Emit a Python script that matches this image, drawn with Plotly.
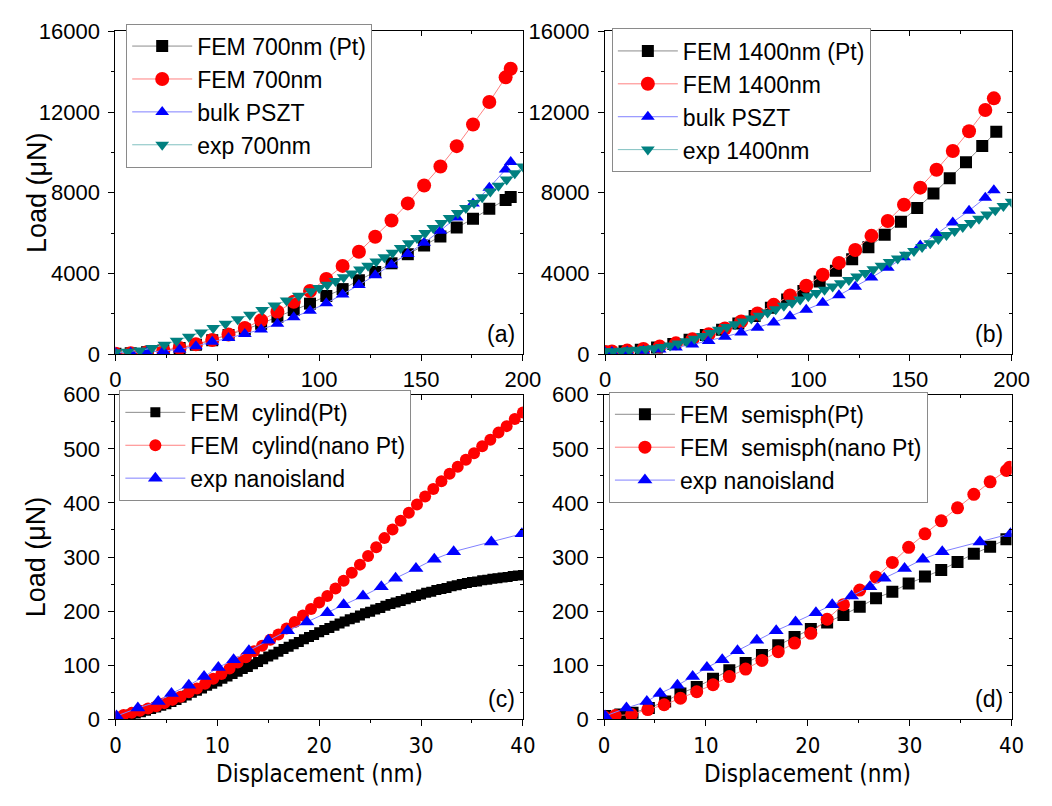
import plotly.graph_objects as go

# ---------------- Panel (a) : 700 nm ----------------
fem_x_a = [0, 7.5, 15.5, 23.5, 31.5, 39.5, 47.5, 55.5, 63.5, 71.5, 79.5, 87.5, 95.5, 103.5,
           111.5, 119.5, 127.5, 135.5, 143.5, 151.5, 159.5, 167.5, 175.5, 183.5, 191.5, 194.0]
fem_pt_a = [20, 40, 90, 180, 300, 465, 690, 950, 1220, 1500, 1850, 2180, 2500, 2880,
            3220, 3660, 4070, 4500, 4950, 5380, 5830, 6270, 6710, 7200, 7640, 7790]
fem_a = [20, 40, 90, 180, 305, 480, 700, 970, 1290, 1670, 2100, 2590, 3130, 3720,
         4370, 5070, 5820, 6620, 7470, 8360, 9300, 10310, 11380, 12500, 13720, 14150]
bulk_a = [60, 70, 100, 150, 230, 390, 610, 790, 990, 1220, 1500, 1820, 2150, 2516,
          2950, 3420, 3910, 4430, 4960, 5513, 6120, 6770, 7460, 8250, 9150, 9519]
exp_x_a = [0, 6, 12, 18, 24, 30, 36, 42, 48, 54, 60, 66, 72, 78, 84, 90, 96, 100, 104, 108,
           112, 116, 120, 124, 128, 132, 136, 140, 144, 148, 152, 156, 160, 164, 168, 172,
           176, 180, 184, 188, 192, 196, 200]
exp_a = [90, 120, 180, 300, 460, 660, 860, 1070, 1290, 1500, 1720, 1950, 2180, 2410, 2650,
         2890, 3120, 3270, 3440, 3620, 3810, 4000, 4190, 4380, 4590, 4800, 5020, 5260, 5500,
         5750, 6000, 6250, 6500, 6750, 7000, 7240, 7490, 7770, 8060, 8350, 8650, 8960, 9300]

# ---------------- Panel (b) : 1400 nm ----------------
fem_pt_x_b = [0, 1.6, 9.6, 17.6, 25.6, 33.6, 41.6, 49.6, 57.6, 65.6, 73.6, 81.6, 89.6, 97.6,
              105.6, 113.6, 121.6, 129.6, 137.6, 145.6, 153.6, 161.6, 169.6, 177.6, 185.6, 192.5]
fem_pt_b = [100, 110, 145, 210, 330, 500, 710, 950, 1200, 1510, 1890, 2290, 2700, 3130,
            3600, 4130, 4700, 5290, 5910, 6560, 7240, 7960, 8720, 9510, 10320, 11020]
fem_x_b = [0, 3.4, 10.9, 18.9, 26.9, 34.9, 43.0, 51.0, 59.0, 67.0, 75.0, 83.0, 91.0, 99.0,
           107.1, 115.1, 123.1, 131.1, 139.1, 147.1, 155.1, 163.1, 171.1, 179.1, 187.1, 191.3]
fem_b = [100, 130, 170, 250, 370, 530, 730, 980, 1270, 1620, 2010, 2440, 2900, 3390,
         3930, 4520, 5160, 5860, 6600, 7400, 8250, 9140, 10070, 11050, 12100, 12680]
bulk_b = [90, 100, 120, 160, 230, 330, 470, 650, 860, 1070, 1310, 1570, 1870, 2200,
          2540, 2920, 3340, 3790, 4280, 4800, 5380, 5960, 6520, 7110, 7750, 8120]
exp_x_b = [0, 4, 8, 12, 16, 20, 24, 28, 32, 36, 40, 44, 48, 52, 56, 60, 64, 68, 72, 76, 80,
           84, 88, 92, 96, 100, 104, 108, 112, 116, 120, 124, 128, 132, 136, 140, 144, 148,
           152, 156, 160, 164, 168, 172, 176, 180, 184, 188, 192, 196, 200]
exp_b = [140, 145, 160, 185, 215, 250, 290, 350, 430, 520, 630, 760, 900, 1050, 1200, 1340,
         1480, 1620, 1760, 1900, 2060, 2220, 2390, 2550, 2710, 2870, 3030, 3190, 3350, 3510,
         3670, 3840, 4020, 4200, 4380, 4560, 4740, 4920, 5110, 5310, 5500, 5700, 5900, 6100,
         6300, 6500, 6710, 6920, 7130, 7340, 7550]

# ---------------- Panel (c) : cylinder ----------------
cyl_pt_x = [0, 0.5, 1, 1.5, 2, 2.5, 3, 3.5, 4, 4.5, 5, 5.5, 6, 6.5, 7, 7.5, 8, 8.5, 9, 9.5,
            10, 10.5, 11, 11.5, 12, 12.5, 13, 13.5, 14, 14.5, 15, 15.5, 16, 16.5, 17, 17.5,
            18, 18.5, 19, 19.5, 20, 20.5, 21, 21.5, 22, 22.5, 23, 23.5, 24, 24.5, 25, 25.5,
            26, 26.5, 27, 27.5, 28, 28.5, 29, 29.5, 30, 30.5, 31, 31.5, 32, 32.5, 33, 33.5,
            34, 34.5, 35, 35.5, 36, 36.5, 37, 37.5, 38, 38.5, 39, 39.5, 40]
cyl_pt_y = [4, 5, 7, 9, 11, 13, 16, 19, 22, 25, 28, 32, 36, 40, 44, 49, 53, 57, 62, 66,
            70, 75, 79, 84, 88, 93, 97, 102, 106, 111, 116, 120, 125, 130, 134, 139,
            143, 148, 152, 156, 161, 165, 169, 173, 177, 181, 185, 188, 192, 196, 199, 203,
            206, 210, 213, 216, 219, 222, 225, 228, 231, 234, 236, 239, 241, 243, 246, 248,
            250, 252, 254, 255, 257, 258, 260, 261, 262, 263, 265, 266, 267]
cyl_nano_x = [0, 0.8, 1.6, 2.4, 3.2, 4.0, 4.8, 5.6, 6.4, 7.2, 8.0, 8.8, 9.6, 10.4, 11.2, 12.0,
              12.8, 13.6, 14.4, 15.2, 16.0, 16.8, 17.6, 18.4, 19.2, 20.0, 20.8, 21.6, 22.4,
              23.2, 24.0, 24.8, 25.6, 26.4, 27.2, 28.0, 28.8, 29.6, 30.4, 31.2, 32.0, 32.8,
              33.6, 34.4, 35.2, 36.0, 36.8, 37.6, 38.4, 39.2, 40.0]
cyl_nano_y = [5, 8, 12, 16, 20, 24, 30, 36, 42, 50, 57, 66, 75, 84, 94, 105, 115, 126, 136,
              147, 157, 168, 180, 192, 204, 216, 228, 242, 256, 271, 286, 302, 318, 335, 351,
              367, 382, 397, 412, 426, 440, 454, 467, 480, 492, 505, 517, 530, 542, 555, 567]
exp_nano_x = [0.1, 2.2, 4.2, 5.5, 7.2, 8.7, 10.1, 11.6, 13.1, 15.0, 16.9, 18.8, 20.8, 22.4,
              24.3, 26.1, 27.5, 29.5, 31.3, 33.2, 36.9, 39.9]
exp_nano_y = [6, 21, 33, 48, 63, 79, 96, 110, 127, 146, 164, 180, 197, 212,
              228, 245, 261, 279, 296, 310, 328, 343]

# ---------------- Panel (d) : semisphere ----------------
sph_pt_x = [0.1, 1.6, 2.8, 4.4, 6.0, 7.5, 9.1, 10.7, 12.3, 13.9, 15.5, 17.1, 18.7, 20.3,
            21.9, 23.5, 25.1, 26.7, 28.3, 29.9, 31.5, 33.1, 34.7, 36.3, 37.9, 39.5]
sph_pt_y = [6, 9, 12, 21, 33, 48, 60, 75, 91, 104, 119, 137, 152, 167,
            179, 193, 208, 224, 236, 251, 264, 276, 291, 306, 319, 333]
sph_nano_x = [0, 1.1, 2.7, 4.3, 5.9, 7.5, 9.1, 10.7, 12.3, 13.9, 15.5, 17.1, 18.7, 20.3,
              21.9, 23.5, 25.1, 26.7, 28.3, 29.9, 31.5, 33.1, 34.7, 36.3, 37.9, 39.5, 39.8]
sph_nano_y = [5, 7, 9, 18, 27, 39, 51, 64, 79, 93, 109, 125, 141, 159,
              185, 212, 239, 263, 290, 318, 343, 367, 391, 416, 439, 460, 466]

FONT = "Liberation Sans, Arial, sans-serif"
NARROW = "DejaVu Sans Condensed, Liberation Sans Narrow, Liberation Sans, sans-serif"

BLACK, RED, BLUE, TEAL = "#000000", "#FF0000", "#0000FF", "#008080"
L_BLACK, L_RED, L_BLUE, L_TEAL = "#8c8c8c", "#ff8080", "#8080ff", "#80c0c0"

fig = go.Figure()


def add(x, y, name, color, lcolor, symbol, size, panel):
    sfx = "" if panel == 1 else str(panel)
    fig.add_trace(go.Scatter(
        x=x, y=y, name=name, mode="lines+markers",
        line=dict(color=lcolor, width=1),
        marker=dict(symbol=symbol, size=size, color=color),
        xaxis="x" + sfx, yaxis="y" + sfx, legend="legend" + sfx))


# panel a
add(fem_x_a, fem_pt_a, "FEM 700nm (Pt)", BLACK, L_BLACK, "square", 12, 1)
add(fem_x_a, fem_a, "FEM 700nm", RED, L_RED, "circle", 14, 1)
add(fem_x_a, bulk_a, "bulk PSZT", BLUE, L_BLUE, "triangle-up", 12, 1)
add(exp_x_a, exp_a, "exp 700nm", TEAL, L_TEAL, "triangle-down", 12, 1)
# panel b
add(fem_pt_x_b, fem_pt_b, "FEM 1400nm (Pt)", BLACK, L_BLACK, "square", 12, 2)
add(fem_x_b, fem_b, "FEM 1400nm", RED, L_RED, "circle", 14, 2)
add(fem_x_b, bulk_b, "bulk PSZT", BLUE, L_BLUE, "triangle-up", 12, 2)
add(exp_x_b, exp_b, "exp 1400nm", TEAL, L_TEAL, "triangle-down", 12, 2)
# panel c
add(cyl_pt_x, cyl_pt_y, "FEM  cylind(Pt)", BLACK, L_BLACK, "square", 10, 3)
add(cyl_nano_x, cyl_nano_y, "FEM  cylind(nano Pt)", RED, L_RED, "circle", 12, 3)
add(exp_nano_x, exp_nano_y, "exp nanoisland", BLUE, L_BLUE, "triangle-up", 13, 3)
# panel d
add(sph_pt_x, sph_pt_y, "FEM  semisph(Pt)", BLACK, L_BLACK, "square", 12, 4)
add(sph_nano_x, sph_nano_y, "FEM  semisph(nano Pt)", RED, L_RED, "circle", 13, 4)
add(exp_nano_x, exp_nano_y, "exp nanoisland", BLUE, L_BLUE, "triangle-up", 13, 4)

W, H = 1052, 806
# plot areas in pixels (left, right, top, bottom)
areas = {1: (112, 529, 20, 353), 2: (613, 1029, 20, 353),
         3: (112, 529, 395, 730), 4: (612, 1029, 395, 730)}
xr = {1: [0, 200], 2: [0, 200], 3: [0, 40], 4: [0, 40]}
yr = {1: [0, 16000], 2: [0, 16000], 3: [0, 600], 4: [0, 600]}
xd = {1: (50, 25), 2: (50, 25), 3: (10, 5), 4: (10, 5)}
yd = {1: (4000, 2000), 2: (4000, 2000), 3: (100, 50), 4: (100, 50)}

layout = dict(width=W, height=H, margin=dict(l=0, r=0, t=0, b=0),
              paper_bgcolor="white", plot_bgcolor="white",
              font=dict(family=FONT, color="black"), showlegend=True)

for p in range(1, 5):
    l, r, t, b = areas[p]
    sfx = "" if p == 1 else str(p)
    osfx = str(p + 4)
    xdom = [l / W, r / W]
    ydom = [1 - b / H, 1 - t / H]
    xfont = dict(family=FONT if p <= 2 else NARROW, size=22, color="black")
    layout["xaxis" + sfx] = dict(
        domain=xdom, range=xr[p], anchor="y" + sfx, showline=True, linecolor="black",
        linewidth=1, mirror=True, ticks="outside", ticklen=6, tickcolor="black",
        tick0=0, dtick=xd[p][0], showgrid=False, zeroline=False, tickfont=xfont,
        minor=dict(dtick=xd[p][1], tick0=0, ticks="outside", ticklen=3, tickcolor="black"))
    layout["yaxis" + sfx] = dict(
        domain=ydom, range=yr[p], anchor="x" + sfx, showline=True, linecolor="black",
        linewidth=1, mirror=True, ticks="outside", ticklen=6, tickcolor="black",
        tick0=0, dtick=yd[p][0], showgrid=False, zeroline=False, tickformat="d",
        ticklabelstandoff=4,
        tickfont=dict(family=FONT, size=22, color="black"),
        minor=dict(dtick=yd[p][1], tick0=0, ticks="outside", ticklen=3, tickcolor="black"))
    # inside ticks on top / right
    layout["xaxis" + osfx] = dict(
        overlaying="x" + sfx, side="top", anchor="y" + sfx, range=xr[p], showline=False,
        ticks="inside", ticklen=5, tickcolor="black", tick0=0, dtick=xd[p][0],
        showticklabels=False, showgrid=False, zeroline=False,
        minor=dict(dtick=xd[p][1], tick0=0, ticks="inside", ticklen=3, tickcolor="black"))
    layout["yaxis" + osfx] = dict(
        overlaying="y" + sfx, side="right", anchor="x" + sfx, range=yr[p], showline=False,
        ticks="inside", ticklen=5, tickcolor="black", tick0=0, dtick=yd[p][0],
        showticklabels=False, showgrid=False, zeroline=False,
        minor=dict(dtick=yd[p][1], tick0=0, ticks="inside", ticklen=3, tickcolor="black"))
    fig.add_trace(go.Scatter(x=[None], y=[None], xaxis="x" + osfx, yaxis="y" + osfx,
                             showlegend=False, hoverinfo="skip"))

legend_pos = {1: (123, 12), 2: (620, 17), 3: (116, 390), 4: (617, 392)}
for p in range(1, 5):
    sfx = "" if p == 1 else str(p)
    lx, ly = legend_pos[p]
    layout["legend" + sfx] = dict(
        x=lx / W, y=1 - ly / H, xanchor="left", yanchor="top", xref="paper", yref="paper",
        bgcolor="white", bordercolor="#8a8a8a", borderwidth=1,
        font=dict(family=FONT, size=23, color="black"), itemwidth=60,
        tracegroupgap=0)

annotations = []
for p, lab in zip(range(1, 5), ["(a)", "(b)", "(c)", "(d)"]):
    sfx = "" if p == 1 else str(p)
    annotations.append(dict(text=lab, xref="x" + sfx + " domain", yref="y" + sfx + " domain",
                            x=0.985, y=0.015, xanchor="right", yanchor="bottom",
                            showarrow=False, font=dict(family=FONT, size=23, color="black")))
for yc in [(20 + 353) / 2, (395 + 730) / 2]:
    annotations.append(dict(text="Load (\u03bcN)", xref="paper", yref="paper",
                            x=31 / W, y=1 - yc / H, textangle=-90, showarrow=False,
                            xanchor="center", yanchor="middle",
                            font=dict(family=FONT, size=27, color="black")))
for xc in [(112 + 529) / 2, (612 + 1029) / 2]:
    annotations.append(dict(text="Displacement (nm)", xref="paper", yref="paper",
                            x=xc / W, y=1 - 786 / H, showarrow=False,
                            xanchor="center", yanchor="middle",
                            font=dict(family=NARROW, size=24, color="black")))
layout["annotations"] = annotations

fig.update_layout(**layout)
fig.write_html("out.html")
